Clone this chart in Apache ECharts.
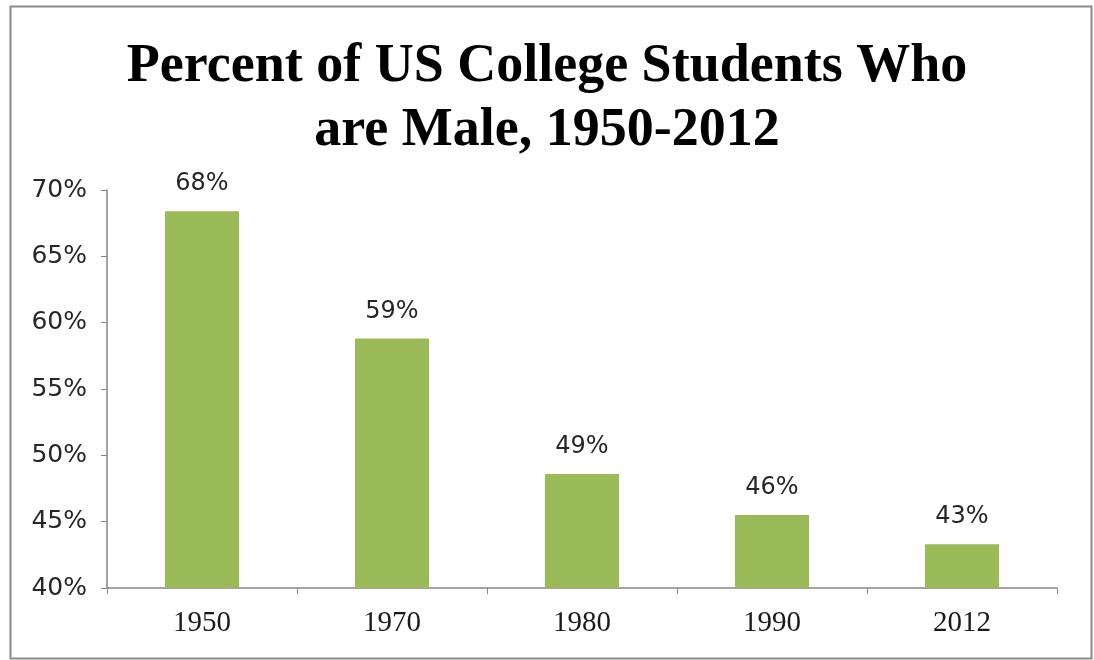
<!DOCTYPE html>
<html><head><meta charset="utf-8">
<script src="https://cdn.jsdelivr.net/npm/echarts@6/dist/echarts.min.js"></script>
<style>html,body{margin:0;padding:0;background:#fff}#c{width:1094px;height:660px}</style>
</head><body><div id="c"></div>
<script>
const titleText = 'Percent of US College Students Who\nare Male, 1950-2012';
const categories = ['1950', '1970', '1980', '1990', '2012'];
const malePercent = [68.4, 58.8, 48.6, 45.5, 43.3];
const yMin = 40, yMax = 70, yStep = 5;

const chart = echarts.init(document.getElementById('c'), null, {renderer: 'canvas'});
chart.setOption({
  backgroundColor: '#fff',
  animation: false,
  title: {
    text: titleText, left: 'center', top: 30,
    textStyle: {fontFamily: 'Liberation Serif', fontWeight: 'bold', fontSize: 54, lineHeight: 64, color: '#000'}
  },
  graphic: [{type: 'rect', left: 8, top: 4, shape: {width: 1081, height: 652}, style: {fill: 'none', stroke: '#8a8a8a', lineWidth: 2}, silent: true}],
  grid: {left: 107, right: 37, top: 190, bottom: 72},
  xAxis: {
    type: 'category', data: categories,
    axisLine: {lineStyle: {color: '#868686', width: 1.5}},
    axisTick: {show: true, alignWithLabel: false, length: 6, lineStyle: {color: '#868686'}},
    axisLabel: {fontFamily: 'Liberation Serif', fontSize: 29, color: '#1a1a1a', margin: 21}
  },
  yAxis: {
    type: 'value', min: yMin, max: yMax, interval: yStep,
    axisLine: {show: true, lineStyle: {color: '#868686', width: 1.5}},
    axisTick: {show: true, length: 6, lineStyle: {color: '#868686'}},
    splitLine: {show: false},
    axisLabel: {fontFamily: 'DejaVu Sans', fontSize: 25, color: '#262626', margin: 20, formatter: v => v + '%'}
  },
  series: [{
    type: 'bar', data: malePercent, barWidth: '39%',
    itemStyle: {color: '#9BBB59'},
    label: {show: true, position: 'top', distance: 15, fontFamily: 'DejaVu Sans', fontSize: 24, color: '#262626',
      formatter: p => Math.round(p.value) + '%'}
  }]
});
</script></body></html>
